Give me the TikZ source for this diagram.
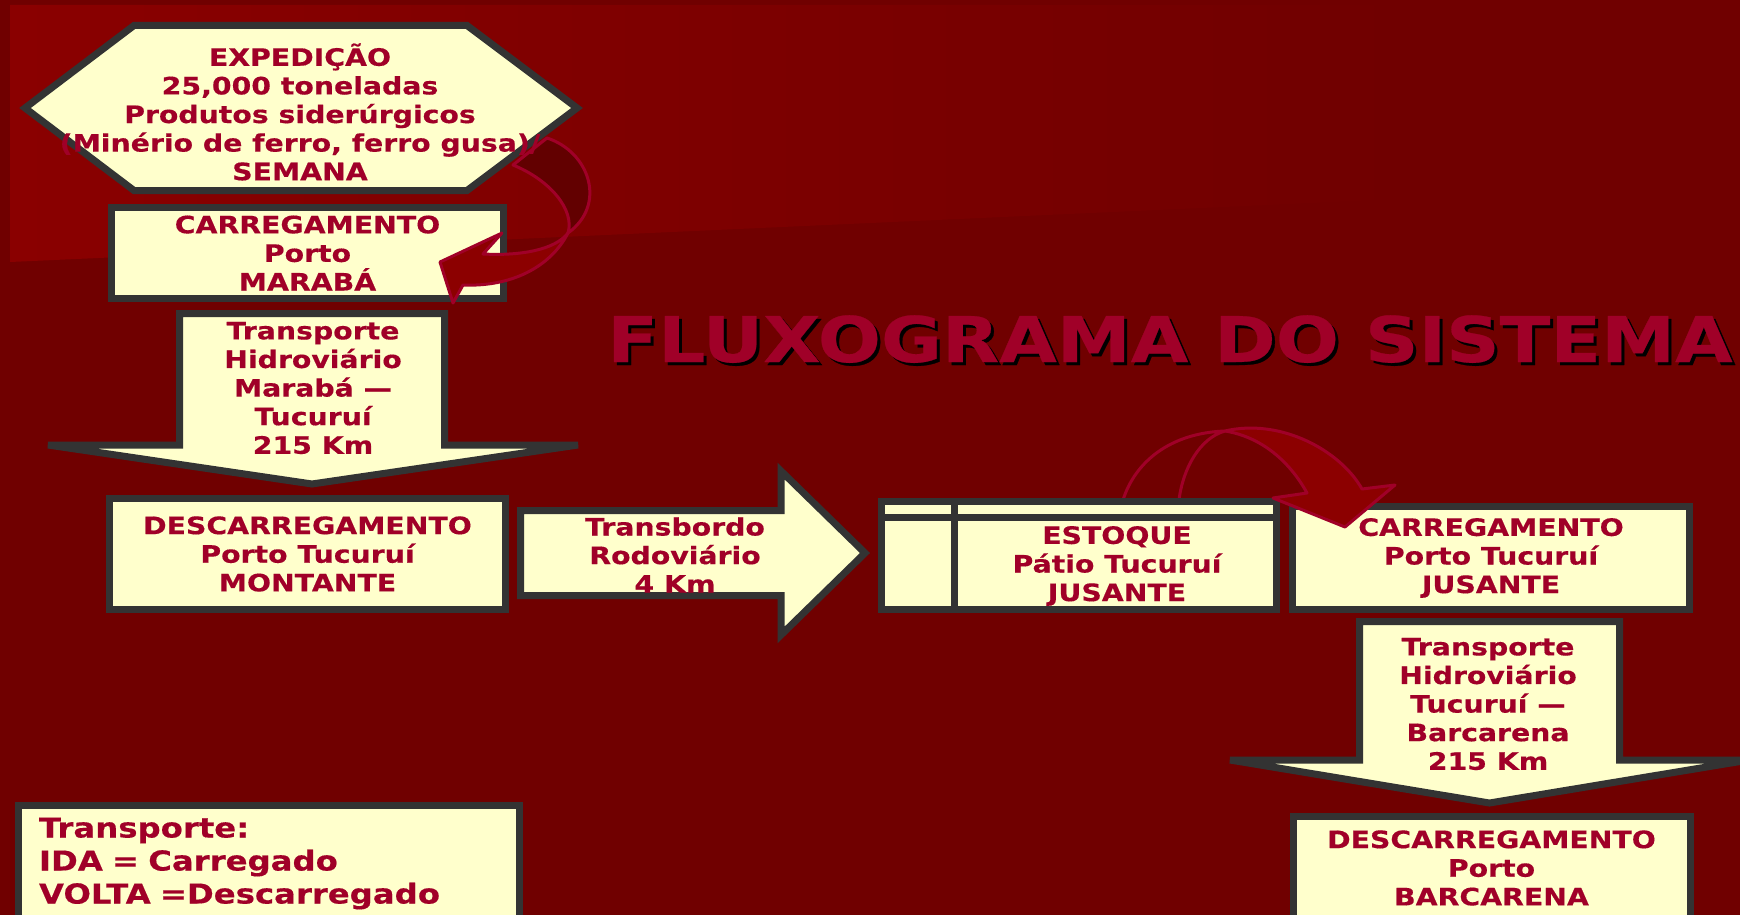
\documentclass[tikz,border=0pt]{standalone}
\usepackage{fontspec}
\setmainfont{DejaVu Sans}[FakeStretch=1.18,FakeBold=0.4]
\usepackage{tikz}
\usetikzlibrary{positioning}
\definecolor{bgred}{RGB}{112,0,0}
\definecolor{bandred}{RGB}{138,0,0}
\definecolor{frontred}{RGB}{140,0,0}
\definecolor{backred}{RGB}{98,0,0}
\definecolor{txtred}{RGB}{160,0,40}
\definecolor{boxfill}{RGB}{255,255,204}
\definecolor{boxline}{RGB}{51,51,51}
\tikzset{
  box/.style={draw=boxline,fill=boxfill,line width=3.5pt,inner sep=0pt},
  txt/.style={text=txtred,font=\bfseries\fontsize{12}{14.3}\selectfont,align=center},
  blockarrow/.style={draw=boxline,fill=boxfill,line width=3.5pt,miter limit=3},
  bendarrow/.style={draw=txtred,line width=1.5pt,line join=round},
}

\begin{document}
\begin{tikzpicture}[x=0.5pt,y=-0.5pt]
        % background
        \useasboundingbox (0,0) rectangle (1740,915);
        \fill[bgred] (0,0) rectangle (1740,915);
        \shade[left color=bandred,right color=bgred] (10,5) -- (1400,5) -- (1400,199) -- (10,262) -- cycle;

        % bent arrows, back side
        \draw[bendarrow,fill=backred] (547,138) .. controls (590,152) and (607,205) .. (568,233)
              .. controls (575,210) and (550,180) .. (513,165) -- cycle;
        \draw[bendarrow,fill=bgred] (1123,500) .. controls (1135,462) and (1170,433) .. (1225,431)
              .. controls (1200,438) and (1183,468) .. (1179,500) -- cycle;

        % left column
        \draw[box] (25,108) -- (134,25.5) -- (467,25.5) -- (577,108) -- (467,190.5) -- (134,190.5) -- cycle;
        \node (expedicao)[txt] at (300,112) {EXPEDIÇÃO\\25,000 toneladas\\Produtos siderúrgicos\\(Minério de ferro, ferro gusa)/\\SEMANA};
        \node (carMaraba)[box,txt,minimum width=196pt,minimum height=45.5pt] at (307.5,253) {CARREGAMENTO\\Porto\\MARABÁ};
        \draw[blockarrow] (179.5,313.5) -- (444.5,313.5) -- (444.5,445) -- (578,445) -- (312,484)
              -- (48,445) -- (179.5,445) -- cycle;
        \node (hidroMT)[txt] at (313,388) {Transporte\\Hidroviário\\Marabá ---\\Tucuruí\\215 Km};
        \node (descMontante)[box,txt,minimum width=198pt,minimum height=55.5pt] at (307.5,554) {DESCARREGAMENTO\\Porto Tucuruí\\MONTANTE};

        % middle
        \draw[blockarrow] (520.5,510.5) -- (781,510.5) -- (781,471) -- (865,553) -- (781,635)
              -- (781,595.5) -- (520.5,595.5) -- cycle;
        \node (transbordo)[txt] at (675,555) {Transbordo\\Rodoviário\\4 Km};
        \node (estoque)[box,minimum width=197.5pt,minimum height=54pt] at (1079,555.5) {};
        \draw[boxline,line width=3.5pt] ([xshift=38.25pt]estoque.north west) -- ([xshift=38.25pt]estoque.south west)
              ([yshift=-9.75pt]estoque.north west) -- ([yshift=-9.75pt]estoque.north east);
        \node (estoqueTxt)[txt] at (1117,566) {ESTOQUE\\Pátio Tucuruí\\JUSANTE};

        % right column
        \node (carJusante)[box,txt,minimum width=198.5pt,minimum height=51.5pt] at (1491,558) {CARREGAMENTO\\Porto Tucuruí\\JUSANTE};
        \draw[blockarrow] (1359.5,621.5) -- (1619.5,621.5) -- (1619.5,760) -- (1749,760) -- (1489.5,803)
              -- (1230,760) -- (1359.5,760) -- cycle;
        \node (hidroTB)[txt] at (1488,704) {Transporte\\Hidroviário\\Tucuruí ---\\Barcarena\\215 Km};
        \node (descBarcarena)[box,txt,minimum width=198.5pt,minimum height=51.5pt] at (1491.5,868) {DESCARREGAMENTO\\Porto\\BARCARENA};

        % legend
        \node (legenda)[box,txt,align=left,font=\bfseries\fontsize{13.7}{16.5}\selectfont,
              text width=230pt,inner xsep=10.25pt,minimum height=58pt] at (269,863.5)
              {Transporte:\\IDA = Carregado\\VOLTA =Descarregado};

        % title
        \node (titleShadow)[anchor=base,text=black,font=\bfseries\fontsize{31.5}{32}\selectfont] at (1173,365) {FLUXOGRAMA DO SISTEMA};
        \node (title)[anchor=base,text=txtred,font=\bfseries\fontsize{31.5}{32}\selectfont] at (1170,362) {FLUXOGRAMA DO SISTEMA};

        % bent arrows, front side
        \draw[bendarrow,fill=frontred] (568,233) .. controls (550,268) and (510,287) .. (463,285)
              -- (453,303) -- (440,262) -- (502,233) -- (483,254)
              .. controls (520,256) and (555,250) .. (568,233) -- cycle;
        \draw[bendarrow,fill=frontred] (1225,431) .. controls (1280,418) and (1340,450) .. (1362,489)
              -- (1395,485) -- (1345,527) -- (1273,498) -- (1307,493)
              .. controls (1290,462) and (1262,437) .. (1225,431) -- cycle;
\end{tikzpicture}
\end{document}
